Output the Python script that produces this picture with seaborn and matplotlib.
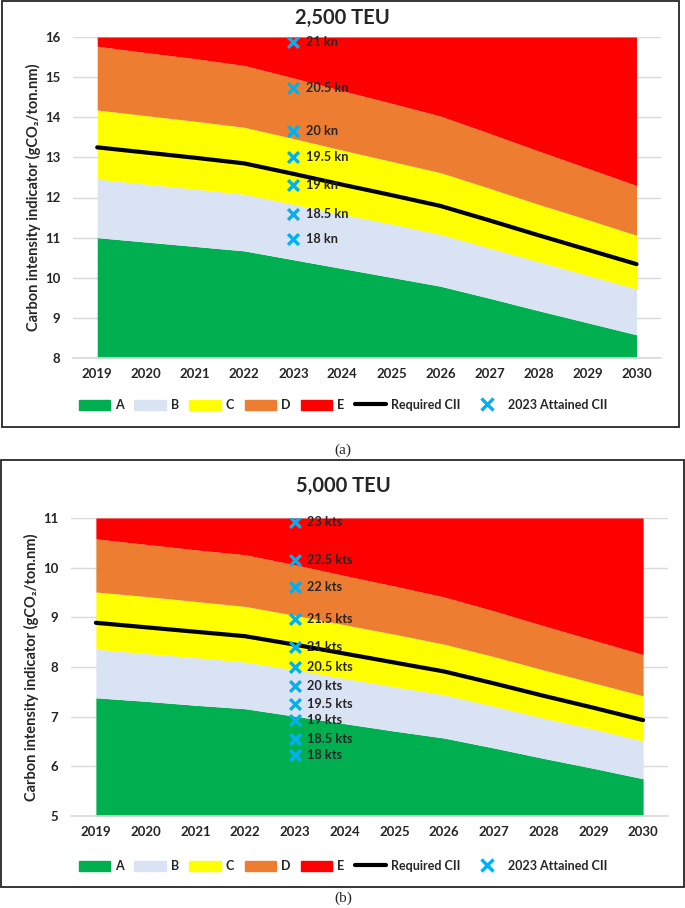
import numpy as np
import matplotlib
matplotlib.use('Agg')
import matplotlib.pyplot as plt
from matplotlib.patches import Patch, Rectangle
from matplotlib.lines import Line2D
import seaborn as sns

anos = ['2019', '2020', '2021', '2022', '2023', '2024', '2025', '2026', '2027', '2028', '2029', '2030']

# painel (a) 2,500 TEU
req_2500 = [13.25, 13.12, 12.99, 12.85, 12.59, 12.32, 12.06, 11.79, 11.43, 11.06, 10.70, 10.34]
a_2500 = [11.00, 10.89, 10.78, 10.67, 10.45, 10.23, 10.01, 9.79, 9.49, 9.18, 8.88, 8.58]
b_2500 = [12.46, 12.33, 12.21, 12.08, 11.83, 11.58, 11.34, 11.08, 10.74, 10.40, 10.06, 9.72]
c_2500 = [14.18, 14.04, 13.90, 13.75, 13.47, 13.18, 12.90, 12.62, 12.23, 11.83, 11.45, 11.06]
d_2500 = [15.77, 15.61, 15.46, 15.29, 14.98, 14.66, 14.35, 14.03, 13.60, 13.16, 12.73, 12.30]
vel_2500 = ['18', '18.5', '19', '19.5', '20', '20.5', '21']
cii_2500 = [10.96, 11.60, 12.30, 13.01, 13.66, 14.72, 15.88]

# painel (b) 5,000 TEU
req_5000 = [8.89, 8.80, 8.71, 8.62, 8.45, 8.27, 8.09, 7.91, 7.67, 7.42, 7.18, 6.93]
a_5000 = [7.38, 7.31, 7.23, 7.16, 7.01, 6.86, 6.71, 6.57, 6.37, 6.16, 5.96, 5.75]
b_5000 = [8.36, 8.27, 8.19, 8.10, 7.94, 7.77, 7.60, 7.44, 7.21, 6.97, 6.75, 6.51]
c_5000 = [9.51, 9.42, 9.32, 9.22, 9.04, 8.85, 8.66, 8.46, 8.21, 7.94, 7.68, 7.42]
d_5000 = [10.58, 10.47, 10.36, 10.26, 10.06, 9.84, 9.63, 9.41, 9.13, 8.83, 8.54, 8.25]
vel_5000 = ['18', '18.5', '19', '19.5', '20', '20.5', '21', '21.5', '22', '22.5', '23']
cii_5000 = [6.23, 6.56, 6.93, 7.26, 7.62, 8.00, 8.40, 8.96, 9.61, 10.15, 10.91]

cores = ['#00B050', '#DAE3F3', '#FFFF00', '#ED7D31', '#FF0000']
azul = '#00B0F0'

sns.set_style('white')
plt.rcParams['font.family'] = ['Lato', 'DejaVu Sans']
plt.rcParams['font.weight'] = 'bold'

W, H = 685, 908
fig = plt.figure(figsize=(W / 100, H / 100), dpi=100)


def eixo(esq, dir, topo, base):
    return fig.add_axes([esq / W, 1 - base / H, (dir - esq) / W, (base - topo) / H])


def painel(ax, req, a, b, c, d, vel, cii, unidade, ylim):
    x = np.arange(len(anos))
    limites = [np.full(len(x), ylim[0]), a, b, c, d, np.full(len(x), ylim[1])]
    for i, cor in enumerate(cores):
        ax.fill_between(x, limites[i], limites[i + 1], color=cor, lw=0, zorder=1)
    sns.lineplot(x=x, y=req, color='black', lw=3, ax=ax, zorder=3)
    sns.scatterplot(x=[4] * len(cii), y=cii, marker='x', color=azul, s=60, linewidth=2.4,
                    ax=ax, zorder=4)
    for v, y in zip(vel, cii):
        ax.annotate(f'{v} {unidade}', (4, y), xytext=(9, 0), textcoords='offset points',
                    va='center', ha='left', fontsize=9.2, fontweight='bold', zorder=5)

    ax.set_xlim(-0.5, len(anos) - 0.5)
    ax.set_ylim(*ylim)
    ax.set_xticks(x)
    ax.set_xticklabels(anos)
    ax.set_xticks(np.arange(-0.5, len(anos)), minor=True)
    ax.set_yticks(np.arange(ylim[0], ylim[1] + 1))
    ax.tick_params(axis='x', which='major', length=0, pad=7, labelsize=9.5)
    ax.tick_params(axis='x', which='minor', length=4, color='#bfbfbf', width=1)
    ax.tick_params(axis='y', length=0, pad=9, labelsize=9.5)
    for lbl in ax.get_xticklabels() + ax.get_yticklabels():
        lbl.set_fontweight('bold')
    ax.yaxis.grid(True, color='#d9d9d9', lw=1)
    ax.set_axisbelow(True)
    for s in ['top', 'right', 'left']:
        ax.spines[s].set_visible(False)
    ax.spines['bottom'].set_color('#d9d9d9')
    ax.spines['bottom'].set_linewidth(1.2)
    ax.set_ylabel('Carbon intensity indicator (gCO₂/ton.nm)', fontsize=10.5,
                  fontweight='bold', va='center')
    ax.yaxis.set_label_coords(-0.066, 0.5)


def legenda(y):
    handles = [Patch(color=c) for c in cores]
    handles.append(Line2D([], [], color='black', lw=3))
    handles.append(Line2D([], [], color=azul, marker='x', ls='', ms=8, mew=2.4))
    fig.legend(handles, ['A', 'B', 'C', 'D', 'E', 'Required CII', '2023 Attained CII'],
               loc='center', bbox_to_anchor=(343 / W, 1 - y / H), ncol=7, frameon=False,
               handlelength=2.5, handleheight=0.85, handletextpad=0.4,
               columnspacing=0.85, prop={'weight': 'bold', 'size': 9})


# painel superior
ax1 = eixo(72.7, 661, 37, 358)
painel(ax1, req_2500, a_2500, b_2500, c_2500, d_2500, vel_2500, cii_2500, 'kn', (8, 16))
fig.text(342 / W, 1 - 18 / H, '2,500 TEU', ha='center', va='center', fontsize=14.5, fontweight='bold')
legenda(405)
fig.patches.append(Rectangle((2 / W, 1 - 427 / H), 677 / W, 426 / H, transform=fig.transFigure,
                             fill=False, ec='#262626', lw=1.3))
fig.text(343 / W, 1 - 450 / H, '(a)', ha='center', va='center', fontsize=11,
         family='Liberation Serif', fontweight='normal')

# painel inferior
ax2 = eixo(71, 668, 518, 816)
painel(ax2, req_5000, a_5000, b_5000, c_5000, d_5000, vel_5000, cii_5000, 'kts', (5, 11))
fig.text(343 / W, 1 - 486 / H, '5,000 TEU', ha='center', va='center', fontsize=14.5, fontweight='bold')
legenda(866)
fig.patches.append(Rectangle((1 / W, 1 - 887 / H), 683 / W, 427 / H, transform=fig.transFigure,
                             fill=False, ec='#262626', lw=1.3))
fig.text(343 / W, 1 - 898 / H, '(b)', ha='center', va='center', fontsize=11,
         family='Liberation Serif', fontweight='normal')

fig.savefig('out.png', dpi=100)
